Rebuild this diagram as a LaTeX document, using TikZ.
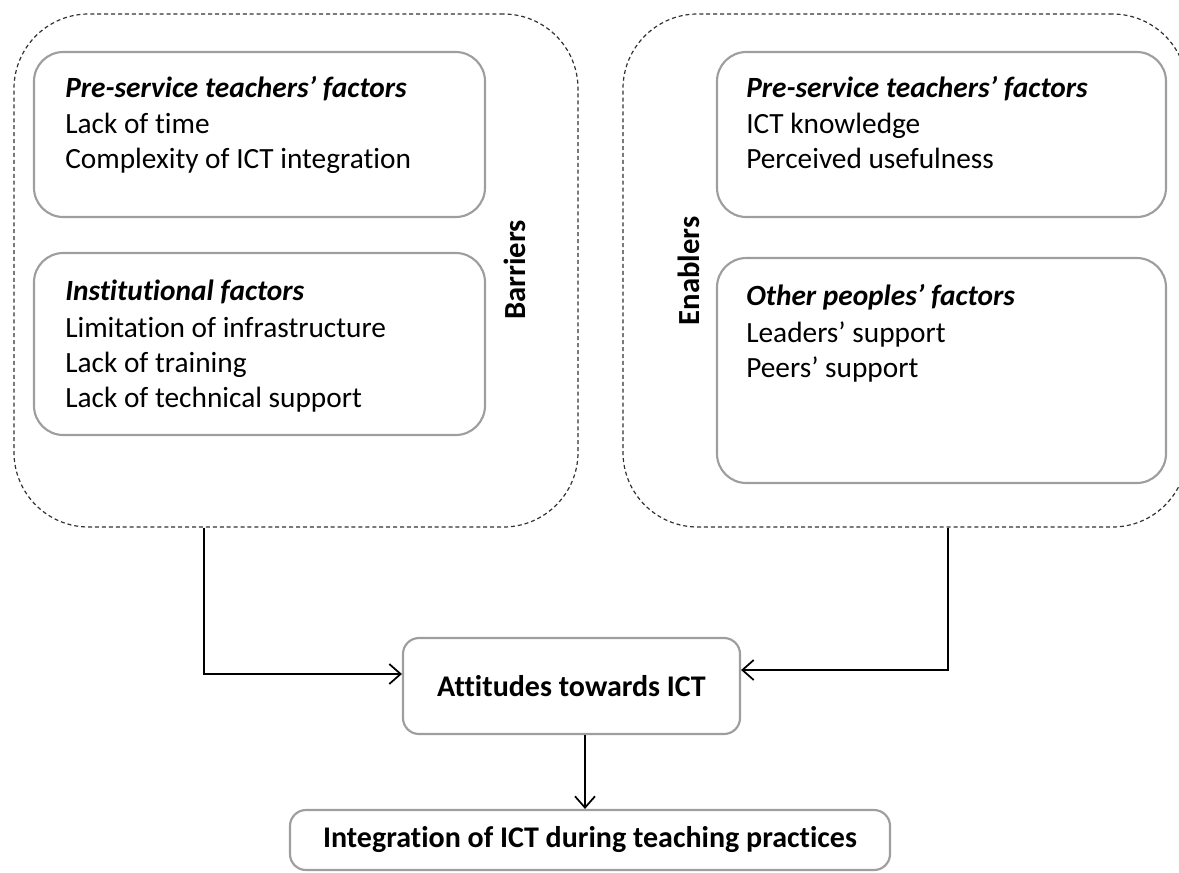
\documentclass[tikz,border=0pt]{standalone}
\usepackage{fontspec}
\setmainfont{Carlito}[Ligatures={NoCommon}]
\usetikzlibrary{arrows.meta,fit}
\begin{document}
\begin{tikzpicture}[x=0.75pt,y=-0.75pt,
  dbox/.style={draw=black!80, line width=0.9pt, dash pattern=on 3pt off 2.2pt, rounded corners=56pt, inner sep=0pt},
  ibox/.style={draw=black!38, line width=1.6pt, rounded corners=22pt, inner sep=0pt},
  obox/.style={draw=black!38, line width=1.6pt, rounded corners=12pt, inner sep=0pt},
  txt/.style={anchor=base west, inner sep=0pt, font=\fontsize{22}{26}\selectfont},
  ttl/.style={txt, font=\fontsize{22}{26}\selectfont\bfseries\itshape},
  side/.style={rotate=90, inner sep=0pt, font=\fontsize{23}{27}\selectfont\bfseries},
  btxt/.style={inner sep=0pt, font=\fontsize{22.5}{26}\selectfont\bfseries},
  conn/.style={draw=black, line width=1.3pt, -{Straight Barb[length=8.5pt,width=15pt,line width=1.3pt]}}]
\useasboundingbox (0,0) rectangle (1179,872);
\begin{scope}
\clip (0,0) rectangle (1179,872);
% outer dashed groups
\node[dbox, fit={(14,14) (578,527)}] (L) {};
\node[dbox, fit={(623,14) (1187,527)}] (R) {};
% inner boxes
\node[ibox, fit={(34,52) (485,217)}] (L1) {};
\node[ibox, fit={(34,253) (485,435)}] (L2) {};
\node[ibox, fit={(717,52) (1166,217)}] (R1) {};
\node[ibox, fit={(717,258) (1166,483)}] (R2) {};
% bottom boxes
\node[obox, fit={(403,638) (740,734)}] (att) {};
\node[obox, fit={(290,810) (890,870)}] (integ) {};
\end{scope}
% texts
\node[ttl] (l1t) at (65,97) {Pre-service teachers’ factors};
\node[txt] (l1a) at (65,133) {Lack of time};
\node[txt] (l1b) at (65,168) {Complexity of ICT integration};
\node[ttl] (l2t) at (65,300) {Institutional factors};
\node[txt] (l2a) at (65,337) {Limitation of infrastructure};
\node[txt] (l2b) at (65,372) {Lack of training};
\node[txt] (l2c) at (65,407) {Lack of technical support};
\node[ttl] (r1t) at (746,97) {Pre-service teachers’ factors};
\node[txt] (r1a) at (746,133) {ICT knowledge};
\node[txt] (r1b) at (746,168) {Perceived usefulness};
\node[ttl] (r2t) at (746,305) {Other peoples’ factors};
\node[txt] (r2a) at (746,342) {Leaders’ support};
\node[txt] (r2b) at (746,377) {Peers’ support};
\node[side] (bar) at (515,270) {Barriers};
\node[side] (ena) at (689,271) {Enablers};
\node[btxt] (attt) at (att.center) {Attitudes towards ICT};
\node[btxt] (integt) at (integ.center) {Integration of ICT during teaching practices};
% connectors
\coordinate (lx) at (204,674);
\coordinate (rx) at (948,670);
\coordinate (dx) at (585,700);
\draw[conn] (L.south -| lx) |- (att.west |- lx);
\draw[conn] (R.south -| rx) |- (att.east |- rx);
\draw[conn] (att.south -| dx) -- (integ.north -| dx);
\end{tikzpicture}
\end{document}
